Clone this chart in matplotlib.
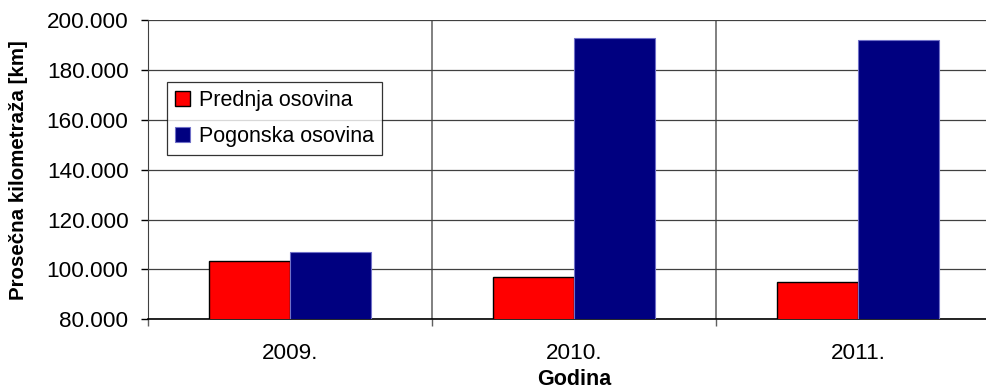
import numpy as np
import matplotlib
matplotlib.use('Agg')
import matplotlib.pyplot as plt

# data
years = ['2009.', '2010.', '2011.']
prednja = [103400, 97100, 95100]
pogonska = [106900, 192800, 192000]
series_names = ['Prednja osovina', 'Pogonska osovina']

plt.rcParams['font.family'] = ['Liberation Sans', 'DejaVu Sans']
fs = 15.5
fs_tick = 16.2

fig = plt.figure(figsize=(9.87, 3.91), dpi=100)
ax = fig.add_axes([148/987, 1 - 319.3/391, 852/987, 299/391])

x = np.arange(len(years))
w = 0.285
ax.bar(x - w/2, prednja, w, color='#ff0000', edgecolor='black', linewidth=1.0,
       label=series_names[0], zorder=3)
ax.bar(x + w/2, pogonska, w, color='#000080', edgecolor='#7070c8', linewidth=0.8,
       label=series_names[1], zorder=3)

ax.set_xlim(-0.5, len(years) - 0.5)
ax.set_ylim(80000, 200000)
yt = np.arange(80000, 200001, 20000)
ax.set_yticks(yt)
ax.set_yticklabels([f'{v // 1000}.000' for v in yt], fontsize=fs_tick)

ax.set_xticks(x)
ax.set_xticklabels(years, fontsize=fs_tick)
ax.set_xticks(np.arange(len(years) + 1) - 0.5, minor=True)
ax.tick_params(axis='x', which='major', length=0, pad=17)
ax.tick_params(axis='x', which='minor', length=5, width=1, color='#606060')
ax.tick_params(axis='y', length=5, width=1, pad=9)

ax.grid(axis='y', color='#404040', linewidth=0.9, zorder=0)
ax.grid(axis='x', which='minor', color='#808080', linewidth=1.4, zorder=0)

for s in ['top', 'right']:
    ax.spines[s].set_visible(False)
ax.spines['left'].set_color('#404040')
ax.spines['bottom'].set_color('black')
ax.spines['bottom'].set_linewidth(1.2)

ax.set_xlabel('Godina', fontsize=fs, fontweight='bold', labelpad=4)
ax.set_ylabel('Prosečna kilometraža [km]', fontsize=14.8, fontweight='bold')
ax.yaxis.set_label_coords(-120/852, 0.5)

leg = ax.legend(loc='upper left', bbox_to_anchor=(167/987, 1 - 82/391),
                bbox_transform=fig.transFigure, fontsize=fs, frameon=True,
                fancybox=False, edgecolor='black', handlelength=0.7,
                handleheight=0.7, handletextpad=0.4, borderpad=0.38,
                labelspacing=0.7, borderaxespad=0)
leg.get_frame().set_linewidth(0.9)

fig.savefig('out.png', dpi=100)
